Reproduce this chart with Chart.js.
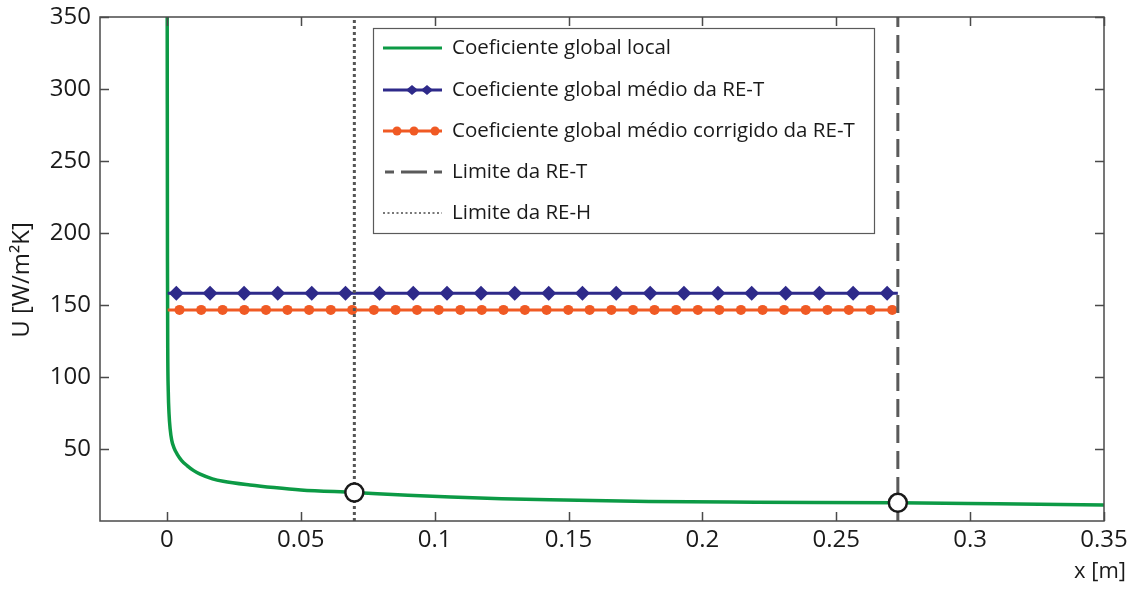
<!DOCTYPE html>
<html>
<head>
<meta charset="utf-8">
<script src="https://cdn.jsdelivr.net/npm/chart.js@4/dist/chart.umd.min.js"></script>
<style>
  html, body { margin: 0; padding: 0; background: #fff; }
  #wrap { width: 1132px; height: 589px; }
</style>
</head>
<body>
<div id="wrap"><canvas id="chart" width="1132" height="589"></canvas></div>
<script>
// ── DATA ──────────────────────────────────────────────────────
// local overall coefficient U(x)
const xLocal = [0.0001, 0.0002, 0.0003, 0.0005, 0.0008, 0.0012, 0.0018, 0.0026, 0.0038, 0.0055, 0.0075, 0.010, 0.0124, 0.017, 0.021, 0.031, 0.040, 0.050, 0.070, 0.090, 0.106, 0.125, 0.143, 0.180, 0.220, 0.273, 0.310, 0.350];
const uLocal = [350,    180,    120,    90,     74,     64,     56,     51,     46.5,   42,     38.5,   35,    32.5,   29.3,  27.6,  25.0,  23.2,  21.6,  19.8,  17.8,  16.6,  15.5,  14.7,  13.6,  13.1,  12.6,  11.9,  11.1];

// mean overall coefficient of RE-T (diamonds)
const xMedio = [0.0003, 0.0035, 0.0161, 0.0288, 0.0414, 0.0541, 0.0667, 0.0794, 0.0920, 0.1046, 0.1173, 0.1299, 0.1426, 0.1552, 0.1678, 0.1805, 0.1931, 0.2058, 0.2184, 0.2311, 0.2437, 0.2563, 0.2690, 0.273];
const uMedio = 158.2;

// corrected mean overall coefficient of RE-T (circles)
const xCorrigido = [0.0003, 0.0047, 0.0128, 0.0208, 0.0289, 0.0370, 0.0450, 0.0531, 0.0612, 0.0692, 0.0773, 0.0854, 0.0934, 0.1015, 0.1096, 0.1176, 0.1257, 0.1337, 0.1418, 0.1499, 0.1579, 0.1660, 0.1741, 0.1821, 0.1902, 0.1983, 0.2063, 0.2144, 0.2225, 0.2305, 0.2386, 0.2467, 0.2547, 0.2628, 0.2709, 0.273];
const uCorrigido = 146.6;

// region limits and the marked points on the local curve
const limiteREH = 0.070;
const limiteRET = 0.273;
const xMarcados = [0.070, 0.273];
const uMarcados = [19.8, 12.6];

const xTicks = [0, 0.05, 0.1, 0.15, 0.2, 0.25, 0.3, 0.35];
const yTicks = [50, 100, 150, 200, 250, 300, 350];
const xTitle = 'x [m]';
const yTitle = 'U [W/m²K]';

const legendLabels = [
  'Coeficiente global local',
  'Coeficiente global médio da RE-T',
  'Coeficiente global médio corrigido da RE-T',
  'Limite da RE-T',
  'Limite da RE-H'
];

// ── STYLE ─────────────────────────────────────────────────────
const FONT = '"Open Sans", "DejaVu Sans", sans-serif';
const GREEN = '#0c9a45';
const BLUE = '#2e2a8a';
const ORANGE = '#f05a24';
const GRAY = '#5a5a5a';
const AXIS = '#4a4a4a';

const pts = (xs, ys) => xs.map((x, i) => ({ x, y: Array.isArray(ys) ? ys[i] : ys }));
// markers on every point except the two line ends
const innerRadius = r => ctx => (ctx.dataIndex === 0 || ctx.dataIndex === ctx.dataset.data.length - 1) ? 0 : r;

// ── FRAME, INWARD TICKS, TITLES, LEGEND ───────────────────────
const framePlugin = {
  id: 'frame',
  afterDatasetsDraw(chart) {
    const { ctx, chartArea: a, scales: { x, y } } = chart;
    ctx.save();
    ctx.strokeStyle = AXIS;
    ctx.lineWidth = 1.5;
    ctx.setLineDash([]);
    ctx.strokeRect(a.left, a.top, a.right - a.left, a.bottom - a.top);
    ctx.beginPath();
    xTicks.forEach(v => {
      const px = Math.round(x.getPixelForValue(v)) + 0.5;
      ctx.moveTo(px, a.bottom); ctx.lineTo(px, a.bottom - 9);
      ctx.moveTo(px, a.top);    ctx.lineTo(px, a.top + 9);
    });
    yTicks.forEach(v => {
      const py = Math.round(y.getPixelForValue(v)) + 0.5;
      ctx.moveTo(a.left, py);  ctx.lineTo(a.left + 9, py);
      ctx.moveTo(a.right, py); ctx.lineTo(a.right - 9, py);
    });
    ctx.stroke();

    // axis titles
    ctx.fillStyle = '#1a1a1a';
    ctx.font = '22px ' + FONT;
    ctx.textAlign = 'right';
    ctx.textBaseline = 'middle';
    ctx.fillText(xTitle, 1126, 572);
    ctx.save();
    ctx.translate(22, 280);
    ctx.rotate(-Math.PI / 2);
    ctx.textAlign = 'center';
    ctx.font = '24px ' + FONT;
    ctx.fillText(yTitle, 0, 0);
    ctx.restore();

    // legend box
    const bx = 373, by = 28, bw = 501, bh = 205;
    ctx.fillStyle = '#fff';
    ctx.fillRect(bx, by, bw, bh);
    ctx.strokeStyle = GRAY;
    ctx.lineWidth = 1.2;
    ctx.strokeRect(bx + 0.5, by + 0.5, bw, bh);

    const rows = [48, 90, 131, 172, 213];
    const x0 = 383, x1 = 442;
    ctx.lineWidth = 3;
    rows.forEach((ry, i) => {
      ctx.save();
      ctx.beginPath();
      if (i === 0) { ctx.strokeStyle = GREEN; ctx.moveTo(x0, ry); ctx.lineTo(x1, ry); }
      if (i === 1) { ctx.strokeStyle = BLUE; ctx.moveTo(x0, ry); ctx.lineTo(x1, ry); }
      if (i === 2) { ctx.strokeStyle = ORANGE; ctx.moveTo(x0, ry); ctx.lineTo(x1, ry); }
      if (i === 3) {
        ctx.strokeStyle = GRAY;
        ctx.moveTo(385, ry); ctx.lineTo(394, ry);
        ctx.moveTo(401, ry); ctx.lineTo(427, ry);
        ctx.moveTo(434, ry); ctx.lineTo(442, ry);
      }
      if (i === 4) { ctx.strokeStyle = '#777'; ctx.lineWidth = 2; ctx.setLineDash([2, 2.5]); ctx.moveTo(x0, ry); ctx.lineTo(x1, ry); }
      ctx.stroke();
      ctx.restore();
      if (i === 1) {
        ctx.fillStyle = BLUE;
        [412, 427].forEach(mx => {
          ctx.beginPath();
          ctx.moveTo(mx - 6, ry); ctx.lineTo(mx, ry - 5); ctx.lineTo(mx + 6, ry); ctx.lineTo(mx, ry + 5);
          ctx.closePath(); ctx.fill();
        });
      }
      if (i === 2) {
        ctx.fillStyle = ORANGE;
        [397, 414, 435].forEach(mx => {
          ctx.beginPath(); ctx.arc(mx, ry, 4.5, 0, Math.PI * 2); ctx.fill();
        });
      }
      ctx.fillStyle = '#1a1a1a';
      ctx.font = '20.5px ' + FONT;
      ctx.textAlign = 'left';
      ctx.textBaseline = 'middle';
      ctx.fillText(legendLabels[i], 452, ry);
    });
    ctx.restore();
  }
};

// ── CHART ─────────────────────────────────────────────────────
new Chart(document.getElementById('chart'), {
  type: 'line',
  data: {
    datasets: [
      {
        label: 'marcados', data: pts(xMarcados, uMarcados), showLine: false, order: 0,
        pointStyle: 'circle', pointRadius: 9, pointBorderWidth: 2.5,
        pointBackgroundColor: '#fff', pointBorderColor: '#1a1a1a'
      },
      {
        label: legendLabels[3], data: pts([limiteRET, limiteRET], [0, 350]), order: 1,
        borderColor: GRAY, borderWidth: 3, borderDash: [18, 8], pointRadius: 0
      },
      {
        label: legendLabels[4], data: pts([limiteREH, limiteREH], [0, 350]), order: 1,
        borderColor: '#555', borderWidth: 3, borderDash: [3, 3], pointRadius: 0
      },
      {
        label: legendLabels[1], data: pts(xMedio, uMedio), order: 2,
        borderColor: BLUE, borderWidth: 3, pointStyle: 'rectRot',
        pointRadius: innerRadius(7.5), pointBackgroundColor: BLUE, pointBorderWidth: 0
      },
      {
        label: legendLabels[2], data: pts(xCorrigido, uCorrigido), order: 2,
        borderColor: ORANGE, borderWidth: 3, pointStyle: 'circle',
        pointRadius: innerRadius(5), pointBackgroundColor: ORANGE, pointBorderWidth: 0
      },
      {
        label: legendLabels[0], data: pts(xLocal, uLocal), order: 3,
        borderColor: GREEN, borderWidth: 3.5, pointRadius: 0,
        cubicInterpolationMode: 'monotone'
      }
    ]
  },
  options: {
    responsive: false,
    animation: false,
    events: [],
    layout: { padding: { left: 0, top: 17, right: 28, bottom: 0 } },
    plugins: { legend: { display: false }, tooltip: { enabled: false } },
    scales: {
      x: {
        type: 'linear', min: -0.025, max: 0.35,
        grid: { display: false, drawTicks: false }, border: { display: false },
        afterBuildTicks: s => { s.ticks = xTicks.map(value => ({ value })); },
        afterFit: s => { s.height = 68; s.paddingLeft = 0; s.paddingRight = 0; },
        ticks: {
          color: '#1a1a1a', padding: 5, maxRotation: 0, autoSkip: false,
          font: { family: FONT, size: 24 },
          callback: v => String(v)
        }
      },
      y: {
        type: 'linear', min: 0, max: 350,
        grid: { display: false, drawTicks: false }, border: { display: false },
        afterBuildTicks: s => { s.ticks = yTicks.map(value => ({ value })); },
        afterFit: s => { s.width = 100; s.paddingTop = 0; s.paddingBottom = 0; },
        ticks: {
          color: '#1a1a1a', padding: 9, autoSkip: false,
          font: { family: FONT, size: 24 }
        }
      }
    }
  },
  plugins: [framePlugin]
});
</script>
</body>
</html>
